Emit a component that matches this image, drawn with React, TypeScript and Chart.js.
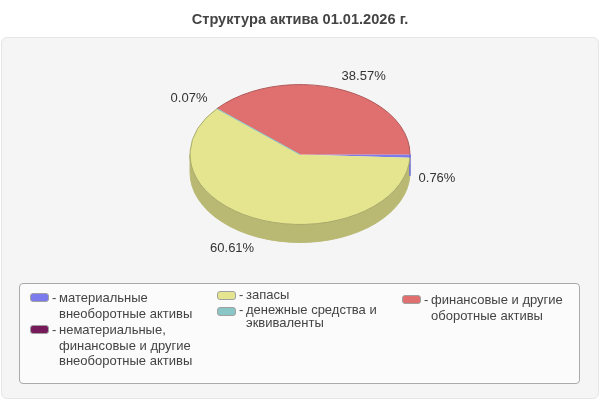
import React, { useEffect, useRef } from 'react';
import Chart from 'chart.js/auto';

const title = 'Структура актива 01.01.2026 г.';
const categories = [
  'материальные внеоборотные активы',
  'нематериальные, финансовые и другие внеоборотные активы',
  'запасы',
  'денежные средства и эквиваленты',
  'финансовые и другие оборотные активы',
];
const shares = [0.76, 0, 60.61, 0.07, 38.57];
const pieLabels = ['0.76%', '', '60.61%', '0.07%', '38.57%'];

const fills = ['#7b7bee', '#761a5a', '#e5e590', '#8ac6c6', '#e07070'];
const edges = ['#6a6ae0', '#5c1046', '#a9a96a', '#6aa6a6', '#b05a5a'];
const sides = ['#6a6ae0', '#5c1046', '#b9b974', '#6aa6a6', '#a85050'];

// where each label sits relative to the rim point at the slice's middle
const labelOffsets = [
  [27, 22],
  [0, 0],
  [-27, 29],
  [-28, -10],
  [25, -13],
];

const SQUASH = 0.636;
const DEPTH = 18;

// squashes the pie into an ellipse and draws the wall under it
const pie3d = {
  id: 'pie3d',
  beforeDatasetsDraw(chart: any) {
    const ctx = chart.ctx;
    const arcs = chart.getDatasetMeta(0).data;
    ctx.save();
    // backwards, so the thin first slice stays on top of the big one
    for (let i = arcs.length - 1; i >= 0; i--) {
      const arc = arcs[i];
      const from = Math.max(arc.startAngle, 0);
      const to = Math.min(arc.endAngle, Math.PI);
      if (to <= from) continue;
      const rx = arc.outerRadius;
      const ry = rx * SQUASH;
      ctx.beginPath();
      ctx.ellipse(arc.x, arc.y, rx, ry, 0, from, to);
      ctx.ellipse(arc.x, arc.y + DEPTH, rx, ry, 0, to, from, true);
      ctx.closePath();
      ctx.fillStyle = sides[i];
      ctx.strokeStyle = sides[i];
      ctx.lineWidth = 1;
      ctx.fill();
      ctx.stroke();
    }
    const first = arcs[0];
    ctx.translate(0, first.y);
    ctx.scale(1, SQUASH);
    ctx.translate(0, -first.y);
  },
  afterDatasetsDraw(chart: any) {
    const ctx = chart.ctx;
    ctx.restore();
    const arcs = chart.getDatasetMeta(0).data;
    ctx.save();
    ctx.lineWidth = 1;
    arcs.forEach((arc: any, i: number) => {
      if (arc.endAngle <= arc.startAngle) return;
      const rx = arc.outerRadius;
      const ry = rx * SQUASH;
      // slices too thin to see still get a line of their colour
      if (shares[i] < 0.2) {
        ctx.beginPath();
        ctx.moveTo(arc.x, arc.y);
        ctx.lineTo(arc.x + rx * Math.cos(arc.startAngle), arc.y + ry * Math.sin(arc.startAngle));
        ctx.strokeStyle = fills[i];
        ctx.stroke();
      }
      ctx.beginPath();
      ctx.ellipse(arc.x, arc.y, rx, ry, 0, arc.startAngle, arc.endAngle);
      ctx.strokeStyle = edges[i];
      ctx.stroke();
    });
    ctx.font = '13px "Liberation Sans", Arial, sans-serif';
    ctx.fillStyle = '#333333';
    ctx.textAlign = 'center';
    ctx.textBaseline = 'middle';
    arcs.forEach((arc: any, i: number) => {
      if (!pieLabels[i]) return;
      const mid = (arc.startAngle + arc.endAngle) / 2;
      const x = arc.x + arc.outerRadius * Math.cos(mid);
      const y = arc.y + arc.outerRadius * SQUASH * Math.sin(mid);
      ctx.fillText(pieLabels[i], x + labelOffsets[i][0], y + labelOffsets[i][1]);
    });
    ctx.restore();
  },
};

// legend layout: left, top of the swatch row, line height, forced lines
const legendLayout = [
  { x: 30, y: 290, lh: 15.6, lines: ['материальные', 'внеоборотные активы'] },
  { x: 30, y: 322, lh: 15.6, lines: ['нематериальные,', 'финансовые и другие', 'внеоборотные активы'] },
  { x: 217, y: 288, lh: 14, lines: ['запасы'] },
  { x: 217, y: 304, lh: 12.5, lines: ['денежные средства и', 'эквиваленты'] },
  { x: 402, y: 292, lh: 15.6, lines: ['финансовые и другие', 'оборотные активы'] },
];

const App = () => {
  const canvasRef = useRef<HTMLCanvasElement | null>(null);

  useEffect(() => {
    document.body.style.margin = '0';
    const canvas = canvasRef.current;
    if (!canvas) return;

    const chart = new Chart(canvas, {
      type: 'pie',
      data: {
        labels: categories,
        datasets: [
          {
            data: shares,
            backgroundColor: fills,
            borderWidth: 0,
          },
        ],
      },
      options: {
        responsive: false,
        animation: false,
        rotation: 90,
        layout: { padding: { left: 190, right: 190, top: 0, bottom: 135 } },
        plugins: {
          legend: { display: false },
          tooltip: { enabled: false },
          title: {
            display: true,
            text: title,
            color: '#444444',
            font: { family: '"Liberation Sans", Arial, sans-serif', size: 14.6, weight: 'bold' },
            padding: { top: 11.2, bottom: 15.3 },
          },
        },
      },
      plugins: [pie3d],
    });

    return () => chart.destroy();
  }, []);

  return (
    <div
      style={{
        position: 'relative',
        width: 600,
        height: 400,
        background: '#ffffff',
        overflow: 'hidden',
        fontFamily: '"Liberation Sans", Arial, sans-serif',
        fontSize: 13,
        color: '#444444',
      }}
    >
      <div
        style={{
          position: 'absolute',
          left: 1,
          top: 37,
          width: 596,
          height: 360,
          background: '#f5f5f5',
          border: '1px solid #e6e6e6',
          borderRadius: 6,
        }}
      />
      <div
        style={{
          position: 'absolute',
          left: 19,
          top: 283,
          width: 559,
          height: 99,
          background: '#fbfbfb',
          border: '1px solid #aaaaaa',
          borderRadius: 4,
        }}
      />
      <canvas
        ref={canvasRef}
        width={600}
        height={400}
        style={{ position: 'absolute', left: 0, top: 0, display: 'block' }}
      />
      {legendLayout.map((item, i) => (
        <div key={categories[i]} style={{ position: 'absolute', left: item.x, top: item.y }}>
          <div
            style={{
              position: 'absolute',
              left: 0,
              top: 3,
              width: 17,
              height: 7,
              background: fills[i],
              border: '1px solid #a0a0a0',
              borderRadius: 3,
            }}
          />
          <div style={{ position: 'absolute', left: 22, top: 0, lineHeight: item.lh + 'px' }}>-</div>
          <div style={{ position: 'absolute', left: 29, top: 0, lineHeight: item.lh + 'px', whiteSpace: 'nowrap' }}>
            {item.lines.map((line) => (
              <div key={line}>{line}</div>
            ))}
          </div>
        </div>
      ))}
    </div>
  );
};

export default App;
